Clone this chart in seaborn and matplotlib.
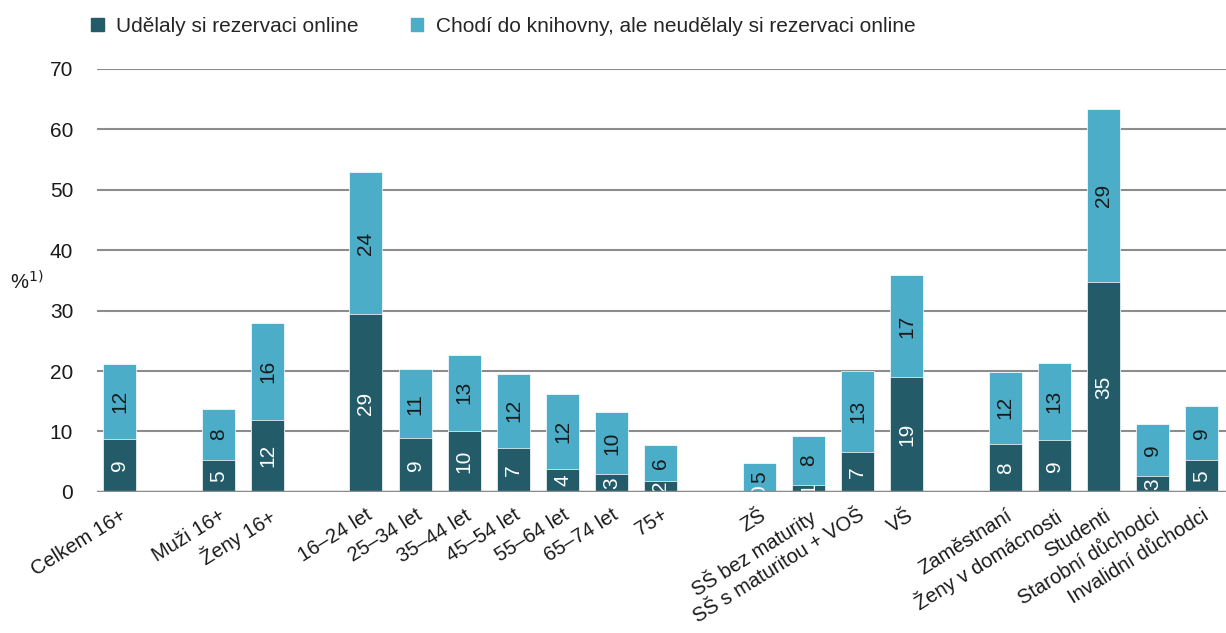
import numpy as np
import pandas as pd
import matplotlib
matplotlib.use('Agg')
import matplotlib.pyplot as plt
from matplotlib.patches import Patch
import seaborn as sns

sns.set_style('white')
plt.rcParams['font.family'] = ['Liberation Sans', 'DejaVu Sans']

# slots with None are the gaps between groups
categories = ['Celkem 16+', None, 'Muži 16+', 'Ženy 16+', None,
              '16–24 let', '25–34 let', '35–44 let', '45–54 let', '55–64 let', '65–74 let', '75+', None,
              'ZŠ', 'SŠ bez maturity', 'SŠ s maturitou + VOŠ', 'VŠ', None,
              'Zaměstnaní', 'Ženy v domácnosti', 'Studenti', 'Starobní důchodci', 'Invalidní důchodci']
online = [8.8, None, 5.3, 11.9, None,
          29.4, 8.9, 10.1, 7.3, 3.8, 2.9, 1.8, None,
          0.1, 1.2, 6.6, 19.0, None,
          7.9, 8.6, 34.7, 2.6, 5.3]
offline = [12.4, None, 8.4, 16.1, None,
           23.6, 11.4, 12.6, 12.2, 12.4, 10.4, 5.9, None,
           4.6, 8.1, 13.4, 16.9, None,
           12.0, 12.8, 28.7, 8.6, 8.9]

series = ['Udělaly si rezervaci online', 'Chodí do knihovny, ale neudělaly si rezervaci online']
dark = '#235b69'
light = '#4badc8'

df = pd.DataFrame({'cat': categories, 'online': online, 'offline': offline})
df['pos'] = np.arange(len(df))
df = df.dropna().reset_index(drop=True)
df['total'] = df['online'] + df['offline']

fig = plt.figure(figsize=(12.26, 6.33), dpi=100)
ax = fig.add_axes([0.079, 0.223, 0.921, 0.668])

sns.barplot(x='pos', y='total', data=df, native_scale=True, color=light,
            width=0.67, saturation=1, ax=ax, edgecolor='white', linewidth=0.5)
sns.barplot(x='pos', y='online', data=df, native_scale=True, color=dark,
            width=0.67, saturation=1, ax=ax, edgecolor='white', linewidth=0.5)

for _, r in df.iterrows():
    ax.text(r['pos'], r['online'] / 2, '%.0f' % r['online'], rotation=90,
            ha='center', va='center', color='white', fontsize=15, clip_on=True)
    ax.text(r['pos'], r['online'] + r['offline'] / 2, '%.0f' % r['offline'], rotation=90,
            ha='center', va='center', color='#1a1a1a', fontsize=15, clip_on=True)

ax.set_ylim(0, 70)
ax.set_xlim(-0.47, len(categories) - 0.51)
ax.set_yticks(range(0, 71, 10))
ax.yaxis.grid(True, color='#8c8c8c', linewidth=1.5)
ax.set_axisbelow(True)
ax.axhline(0, color='#8c8c8c', linewidth=2.5, zorder=5)
for s in ax.spines.values():
    s.set_visible(False)
ax.tick_params(axis='y', length=0, pad=17, labelsize=15, labelcolor='#1a1a1a')
ax.tick_params(axis='x', length=0, pad=10, labelsize=14.5, labelcolor='#1a1a1a')
ax.set_xticks(df['pos'])
ax.set_xticklabels(df['cat'], rotation=32, ha='right', rotation_mode='anchor')
ax.set_xlabel('')
ax.set_ylabel('')

fig.text(0.008, 0.555, '%$^{1)}$', fontsize=14.5, color='#1a1a1a', va='center')

handles = [Patch(color=dark), Patch(color=light)]
fig.legend(handles, series, loc='upper left', bbox_to_anchor=(0.059, 1.003), ncol=2,
           frameon=False, fontsize=15, handlelength=0.6, handleheight=0.6,
           handletextpad=0.6, columnspacing=2.5)

fig.savefig('out.png', dpi=100)
